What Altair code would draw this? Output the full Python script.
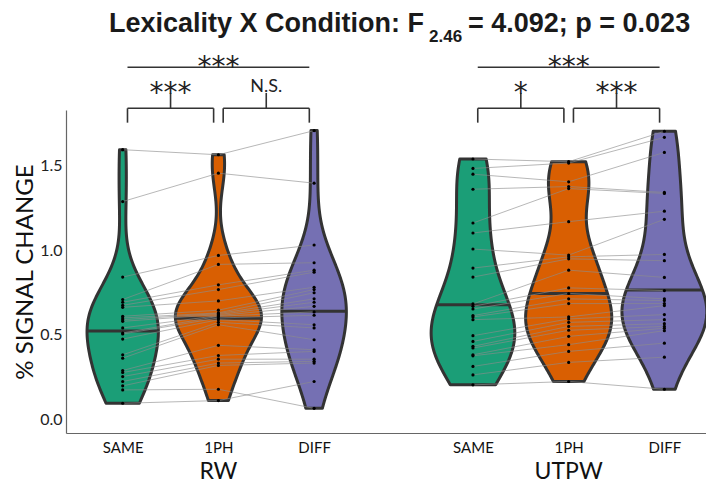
import altair as alt
import pandas as pd
import numpy as np

# ---------------- data ----------------
groups = ["RW", "UTPW"]
conditions = ["SAME", "1PH", "DIFF"]
cond_colors = ["#1b9e77", "#d95f02", "#7570b3"]
group_offsets = [1.0, 4.66]          # x position of first condition of each group

# % signal change, 24 subjects, same subject order in every condition of a group
rw_same = [1.596, 1.289, 0.842, 0.709, 0.693, 0.675, 0.663, 0.610, 0.600, 0.590, 0.580, 0.541,
           0.511, 0.505, 0.475, 0.382, 0.362, 0.289, 0.277, 0.253, 0.224, 0.198, 0.174, 0.095]
rw_1ph = [1.566, 1.457, 0.970, 0.917, 0.796, 0.768, 0.701, 0.646, 0.630, 0.626, 0.620, 0.614,
          0.610, 0.600, 0.590, 0.574, 0.560, 0.438, 0.378, 0.356, 0.333, 0.319, 0.178, 0.111]
rw_diff = [1.709, 1.398, 1.032, 0.927, 0.883, 0.871, 0.782, 0.768, 0.749, 0.713, 0.693, 0.669,
           0.636, 0.616, 0.560, 0.541, 0.471, 0.412, 0.402, 0.356, 0.343, 0.333, 0.065, 0.224]
utpw_same = [1.541, 1.485, 1.451, 1.362, 1.162, 1.103, 1.008, 0.895, 0.842, 0.683, 0.669, 0.653,
             0.614, 0.606, 0.590, 0.495, 0.461, 0.432, 0.422, 0.382, 0.376, 0.313, 0.263, 0.204]
utpw_1ph = [1.525, 1.517, 1.406, 1.378, 1.366, 1.170, 0.972, 0.962, 0.950, 0.883, 0.778, 0.745,
            0.713, 0.685, 0.606, 0.594, 0.574, 0.550, 0.527, 0.491, 0.442, 0.402, 0.337, 0.224]
utpw_diff = [1.705, 1.669, 1.580, 1.343, 1.337, 1.232, 1.184, 0.976, 0.939, 0.840, 0.762, 0.713,
             0.703, 0.685, 0.673, 0.620, 0.590, 0.566, 0.550, 0.539, 0.525, 0.451, 0.368, 0.178]

series = {
    ("RW", "SAME"): rw_same, ("RW", "1PH"): rw_1ph, ("RW", "DIFF"): rw_diff,
    ("UTPW", "SAME"): utpw_same, ("UTPW", "1PH"): utpw_1ph, ("UTPW", "DIFF"): utpw_diff,
}

comparisons = [("SAME", "1PH"), ("1PH", "DIFF"), ("SAME", "DIFF")]
sig_labels = {"RW": ["***", "N.S.", "***"], "UTPW": ["*", "***", "***"]}

y_ticks = [0.0, 0.5, 1.0, 1.5]
y_title = "% SIGNAL CHANGE"
title_main = "Lexicality X Condition: F"
title_sub = "2.46"
title_rest = "= 4.092; p = 0.023"

# bracket levels (data units, above the plotted data)
lvl_leg, lvl_bracket, lvl_stem, lvl_top = 1.756, 1.841, 1.932, 2.084
inset = 0.05
bw_adjust = {"RW": 1.35, "UTPW": 1.0}

# ---------------- build tables ----------------
rows = []
for gi, g in enumerate(groups):
    for ci, c in enumerate(conditions):
        for si, v in enumerate(series[(g, c)]):
            rows.append(dict(group=g, cond=c, ci=ci, subj=f"{g}-{si}", v=v,
                             pos=group_offsets[gi] + ci))
df = pd.DataFrame(rows)


def nrd0(x):
    x = np.asarray(x, dtype=float)
    q75, q25 = np.percentile(x, [75, 25])
    lo = min(x.std(ddof=1), (q75 - q25) / 1.34)
    return 0.9 * lo * len(x) ** -0.2


def kde_max(x, bw):
    x = np.asarray(x, dtype=float)
    grid = np.linspace(x.min(), x.max(), 512)
    d = np.exp(-0.5 * ((grid[:, None] - x[None, :]) / bw) ** 2).sum(1) / (len(x) * bw * np.sqrt(2 * np.pi))
    return d.max()


bws = {k: bw_adjust[k[0]] * nrd0(v) for k, v in series.items()}
# violin widths: scale="area" within each panel (group), max width 0.9
wscale = {g: 0.45 / max(kde_max(series[(g, c)], bws[(g, c)]) for c in conditions) for g in groups}

seg_rows, lab_rows = [], []
for gi, g in enumerate(groups):
    for (a, b), lab in zip(comparisons, sig_labels[g]):
        xa = group_offsets[gi] + conditions.index(a) + inset
        xb = group_offsets[gi] + conditions.index(b) - inset
        mid = (xa + xb) / 2
        star = lab.startswith("*")
        if conditions.index(b) - conditions.index(a) == 1:
            seg_rows += [
                dict(x=xa, x2=xb, y=lvl_bracket, y2=lvl_bracket),
                dict(x=xa, x2=xa, y=lvl_bracket, y2=lvl_leg),
                dict(x=xb, x2=xb, y=lvl_bracket, y2=lvl_leg),
                dict(x=mid, x2=mid, y=lvl_bracket, y2=lvl_stem),
            ]
            lab_rows.append(dict(x=mid, y=lvl_stem, label=lab, star=star))
        else:
            seg_rows.append(dict(x=xa, x2=xb, y=lvl_top, y2=lvl_top))
            lab_rows.append(dict(x=mid, y=lvl_top, label=lab, star=star))
segs = pd.DataFrame(seg_rows)
labs = pd.DataFrame(lab_rows)

glab = pd.DataFrame({"group": groups, "x": [o + 1 for o in group_offsets]})

# ---------------- scales / axes ----------------
W, H = 640, 323
xscale = alt.Scale(domain=[0.4075, 7.095], nice=False, zero=False)
yscale = alt.Scale(domain=[-0.081, 1.831], nice=False, zero=False)
FONT = "Lato"

label_expr = ("[" + ",".join(f"'{c}'" for c in conditions) + "][round(datum.value - (datum.value > "
              + str(group_offsets[1] - 0.5) + " ? " + str(group_offsets[1]) + " : " + str(group_offsets[0]) + "))]")
xaxis = alt.Axis(values=[o + i for o in group_offsets for i in range(len(conditions))],
                 labelExpr=label_expr, title=None, grid=False, ticks=False,
                 labelFont=FONT, labelFontSize=15, labelColor="#111", labelPadding=7,
                 domainColor="#666", domainWidth=1.2)
yaxis = alt.Axis(values=y_ticks, format=".1f", title=y_title, grid=False, ticks=False,
                 labelFont=FONT, labelFontSize=16, labelColor="#222", labelPadding=4,
                 titleFont=FONT, titleFontSize=24, titleFontWeight="normal", titleColor="#111",
                 titlePadding=2, domainColor="#666", domainWidth=1.2)


def X(f):
    return alt.X(f, type="quantitative", scale=xscale, axis=xaxis)


def Y(f):
    return alt.Y(f, type="quantitative", scale=yscale, axis=yaxis)


layers = []
for gi, g in enumerate(groups):
    for ci, c in enumerate(conditions):
        pos = group_offsets[gi] + ci
        base = (alt.Chart(df)
                .transform_filter(f"datum.group == '{g}' && datum.cond == '{c}'")
                .transform_density("v", as_=["v", "density"], bandwidth=bws[(g, c)], steps=200)
                .transform_calculate(xl=f"{pos} - datum.density * {wscale[g]}",
                                     xr=f"{pos} + datum.density * {wscale[g]}"))
        area = base.mark_area(orient="horizontal", fill=cond_colors[ci], stroke="#333333",
                              strokeWidth=3, strokeJoin="round").encode(
            y=Y("v"), x=X("xl"), x2="xr:Q")
        med = (base
               .transform_window(cum="sum(density)", sort=[alt.SortField("v")], frame=[None, 0])
               .transform_joinaggregate(tot="sum(density)")
               .transform_calculate(dd="abs(datum.cum / datum.tot - 0.5)")
               .transform_joinaggregate(md="min(dd)")
               .transform_filter("datum.dd == datum.md")
               .mark_rule(stroke="#333333", strokeWidth=3)
               .encode(y=Y("v"), x=X("xl"), x2="xr:Q"))
        layers += [area, med]

lines = alt.Chart(df).mark_line(color="#8c8c8c", strokeWidth=0.7, opacity=0.9).encode(
    x=X("pos"), y=Y("v"), detail="subj:N", order="ci:Q")
points = alt.Chart(df).mark_circle(size=10, color="black", opacity=1).encode(x=X("pos"), y=Y("v"))

brackets = alt.Chart(segs).mark_rule(color="#333333", strokeWidth=1.6).encode(
    x=X("x"), x2="x2:Q", y=Y("y"), y2="y2:Q")
star_txt = alt.Chart(labs).transform_filter("datum.star").mark_text(
    font="DejaVu Sans", fontSize=28, baseline="alphabetic", dy=9, color="#222").encode(
    x=X("x"), y=Y("y"), text="label:N")
ns_txt = alt.Chart(labs).transform_filter("!datum.star").mark_text(
    font=FONT, fontSize=18, baseline="alphabetic", dy=-1, color="#222").encode(
    x=X("x"), y=Y("y"), text="label:N")

group_txt = alt.Chart(glab).mark_text(font=FONT, fontSize=23, baseline="alphabetic", color="#111").encode(
    x=X("x"), y=alt.value(H + 46), text="group:N")

TF = "Liberation Sans"
t1 = alt.Chart(pd.DataFrame({"t": [title_main]})).mark_text(
    font=TF, fontWeight="bold", fontSize=27, align="right", baseline="alphabetic", color="#1a1a1a").encode(
    x=alt.value(424 - 66), y=alt.value(32 - 110), text="t:N")
t2 = alt.Chart(pd.DataFrame({"t": [title_sub]})).mark_text(
    font=TF, fontWeight="bold", fontSize=17, align="left", baseline="alphabetic", color="#1a1a1a").encode(
    x=alt.value(429 - 66), y=alt.value(42 - 110), text="t:N")
t3 = alt.Chart(pd.DataFrame({"t": [title_rest]})).mark_text(
    font=TF, fontWeight="bold", fontSize=27, align="left", baseline="alphabetic", color="#1a1a1a").encode(
    x=alt.value(468 - 66), y=alt.value(32 - 110), text="t:N")

chart = alt.layer(*layers, lines, points, brackets, star_txt, ns_txt, group_txt, t1, t2, t3).properties(
    width=W, height=H,
    autosize=alt.AutoSizeParams(type="none"),
    padding={"left": 58, "top": 102, "right": 0, "bottom": 50},
).configure_view(stroke=None)

chart.save("out.html", embed_options={"renderer": "svg", "actions": False})
